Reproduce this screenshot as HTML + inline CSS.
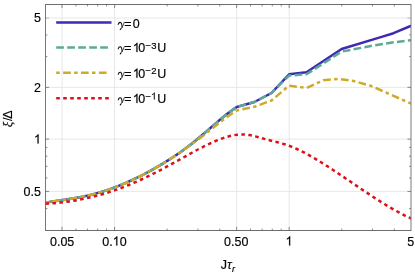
<!DOCTYPE html><html><head><meta charset="utf-8"><style>html,body{margin:0;padding:0;background:#fff}svg{display:block}text{font-family:"Liberation Sans",sans-serif;fill:#000;stroke:#000;stroke-width:0.18px}.si{font-style:italic}.g{font-family:"Liberation Serif",serif;font-style:italic}</style></head><body>
<svg width="415" height="273" viewBox="0 0 415 273">
<rect width="415" height="273" fill="#fff"/>
<line x1="62.04" y1="4.50" x2="62.04" y2="230.50" stroke="#e4e4e4" stroke-width="0.9"/>
<line x1="114.60" y1="4.50" x2="114.60" y2="230.50" stroke="#e4e4e4" stroke-width="0.9"/>
<line x1="236.64" y1="4.50" x2="236.64" y2="230.50" stroke="#e4e4e4" stroke-width="0.9"/>
<line x1="289.20" y1="4.50" x2="289.20" y2="230.50" stroke="#e4e4e4" stroke-width="0.9"/>
<line x1="45.50" y1="191.40" x2="411.00" y2="191.40" stroke="#e4e4e4" stroke-width="0.9"/>
<line x1="45.50" y1="139.10" x2="411.00" y2="139.10" stroke="#e4e4e4" stroke-width="0.9"/>
<line x1="45.50" y1="87.35" x2="411.00" y2="87.35" stroke="#e4e4e4" stroke-width="0.9"/>
<line x1="45.50" y1="18.00" x2="411.00" y2="18.00" stroke="#e4e4e4" stroke-width="0.9"/>
<clipPath id="c"><rect x="45.50" y="4.50" width="365.50" height="226.00"/></clipPath>
<g clip-path="url(#c)" fill="none" stroke-width="2.50" stroke-linejoin="round">
<path d="M45.40,202.62 L48.40,202.14 L51.40,201.68 L54.40,201.22 L57.40,200.78 L60.40,200.34 L63.40,199.89 L66.40,199.44 L69.40,198.97 L72.40,198.49 L75.40,197.98 L78.40,197.45 L81.40,196.88 L84.40,196.28 L87.40,195.63 L90.40,194.94 L93.40,194.19 L96.40,193.39 L99.40,192.53 L102.40,191.61 L105.40,190.64 L108.40,189.63 L111.40,188.56 L114.40,187.45 L117.40,186.30 L120.40,185.10 L123.40,183.86 L126.40,182.58 L129.40,181.26 L132.40,179.89 L135.40,178.48 L138.40,177.03 L141.40,175.53 L144.40,173.99 L147.40,172.41 L150.40,170.79 L153.40,169.13 L156.40,167.42 L159.40,165.67 L162.40,163.87 L165.40,162.03 L168.40,160.15 L171.40,158.23 L174.40,156.27 L177.40,154.25 L180.40,152.18 L183.40,150.04 L186.40,147.83 L189.40,145.53 L192.40,143.16 L195.40,140.74 L198.40,138.27 L201.40,135.76 L204.40,133.22 L207.40,130.65 L210.40,128.06 L213.40,125.45 L216.40,122.84 L219.40,120.27 L222.40,117.75 L225.40,115.30 L228.40,112.95 L231.40,110.72 L234.40,108.63 L236.80,107.00 L254.40,102.00 L271.50,93.00 L289.10,74.30 L306.50,72.30 L341.60,49.00 L380.00,37.40 L393.50,33.20 L411.20,25.75" stroke="#4029b3"/>
<path d="M45.40,202.62 L48.40,202.14 L51.40,201.68 L54.40,201.22 L57.40,200.78 L60.40,200.34 L63.40,199.89 L66.40,199.44 L69.40,198.97 L72.40,198.49 L75.40,197.98 L78.40,197.45 L81.40,196.88 L84.40,196.28 L87.40,195.63 L90.40,194.94 L93.40,194.19 L96.40,193.39 L99.40,192.53 L102.40,191.61 L105.40,190.64 L108.40,189.63 L111.40,188.56 L114.40,187.45 L117.40,186.30 L120.40,185.10 L123.40,183.86 L126.40,182.58 L129.40,181.26 L132.40,179.89 L135.40,178.48 L138.40,177.03 L141.40,175.53 L144.40,173.99 L147.40,172.41 L150.40,170.79 L153.40,169.13 L156.40,167.42 L159.40,165.67 L162.40,163.87 L165.40,162.03 L168.40,160.15 L171.40,158.23 L174.40,156.27 L177.40,154.25 L180.40,152.18 L183.40,150.04 L186.40,147.83 L189.40,145.53 L192.40,143.16 L195.40,140.74 L198.40,138.27 L201.40,135.76 L204.40,133.22 L207.40,130.65 L210.40,128.06 L213.40,125.45 L216.40,122.84 L219.40,120.27 L222.40,117.75 L225.40,115.30 L228.40,112.95 L231.40,110.72 L234.40,108.63 L236.80,107.00 L254.40,102.00 L271.50,93.00 L289.10,75.60 L306.50,74.30 L341.60,51.60 L372.00,45.80 L393.50,42.30 L411.20,40.20" stroke="#5caa96" stroke-dasharray="7.7 3.3"/>
<path d="M45.40,202.62 L48.40,202.14 L51.40,201.68 L54.40,201.22 L57.40,200.78 L60.40,200.34 L63.40,199.89 L66.40,199.44 L69.40,198.97 L72.40,198.49 L75.40,197.98 L78.40,197.45 L81.40,196.88 L84.40,196.28 L87.40,195.63 L90.40,194.94 L93.40,194.19 L96.40,193.39 L99.40,192.53 L102.40,191.61 L105.40,190.64 L108.40,189.63 L111.40,188.56 L114.40,187.45 L117.40,186.30 L120.40,185.10 L123.40,183.86 L126.40,182.58 L129.40,181.26 L132.40,179.89 L135.40,178.48 L138.40,177.03 L141.40,175.53 L144.40,173.99 L147.40,172.41 L150.40,170.79 L153.40,169.13 L156.40,167.42 L159.40,165.67 L162.40,163.87 L165.40,162.03 L168.40,160.15 L171.40,158.23 L174.40,156.27 L177.40,154.25 L180.40,152.20 L183.40,150.20 L186.40,148.12 L189.40,145.97 L192.40,143.74 L195.40,141.47 L198.40,139.24 L201.40,136.98 L204.40,134.68 L207.40,132.35 L210.40,130.00 L213.40,127.63 L216.40,125.27 L219.40,122.86 L222.40,120.50 L225.40,118.22 L228.40,116.02 L231.40,113.94 L234.40,112.00 L236.80,110.50 L254.40,106.80 L271.50,100.50 L289.10,85.60 L306.50,88.00 L323.50,80.20 L338.50,78.90 L353.50,81.00 L371.00,85.90 L393.50,95.80 L411.20,103.70" stroke="#cdab2a" stroke-dasharray="3.5 3.4 7.7 3.3"/>
<path d="M45.40,203.77 L48.40,203.60 L51.40,203.39 L54.40,203.15 L57.40,202.87 L60.40,202.56 L63.40,202.20 L66.40,201.82 L69.40,201.39 L72.40,200.93 L75.40,200.43 L78.40,199.89 L81.40,199.31 L84.40,198.70 L87.40,198.05 L90.40,197.35 L93.40,196.62 L96.40,195.85 L99.40,195.04 L102.40,194.20 L105.40,193.31 L108.40,192.38 L111.40,191.41 L114.40,190.40 L117.40,189.35 L120.40,188.26 L123.40,187.13 L126.40,185.95 L129.40,184.74 L132.40,183.48 L135.40,182.19 L138.40,180.86 L141.40,179.49 L144.40,178.09 L147.40,176.65 L150.40,175.19 L153.40,173.69 L156.40,172.17 L159.40,170.62 L162.40,169.04 L165.40,167.44 L168.40,165.81 L171.40,164.17 L174.40,162.50 L177.40,160.83 L180.40,159.15 L183.40,157.47 L186.40,155.79 L189.40,154.13 L192.40,152.49 L195.40,150.86 L198.40,149.27 L201.40,147.71 L204.40,146.20 L207.40,144.73 L210.40,143.31 L213.40,141.95 L216.40,140.66 L219.40,139.44 L222.40,138.33 L225.40,137.32 L228.40,136.44 L231.40,135.70 L234.40,135.12 L237.40,134.70 L240.40,134.48 L243.40,134.45 L246.40,134.64 L249.40,135.05 L252.40,135.64 L255.40,136.36 L258.40,137.17 L261.40,138.03 L264.40,138.89 L267.40,139.72 L270.40,140.49 L273.40,141.24 L276.40,141.99 L279.40,142.77 L282.40,143.60 L285.40,144.52 L288.40,145.54 L291.40,146.67 L294.40,147.91 L297.40,149.25 L300.40,150.68 L303.40,152.18 L306.40,153.77 L309.40,155.42 L312.40,157.12 L315.40,158.88 L318.40,160.69 L321.40,162.53 L324.40,164.40 L327.40,166.31 L330.40,168.25 L333.40,170.21 L336.40,172.19 L339.40,174.19 L342.40,176.20 L345.40,178.23 L348.40,180.26 L351.40,182.29 L354.40,184.33 L357.40,186.37 L360.40,188.40 L363.40,190.42 L366.40,192.42 L369.40,194.41 L372.40,196.38 L375.40,198.33 L378.40,200.25 L381.40,202.14 L384.40,204.00 L387.40,205.82 L390.40,207.60 L393.40,209.34 L396.40,211.03 L399.40,212.67 L402.40,214.26 L405.40,215.79 L408.40,217.25 L411.20,218.57" stroke="#dc1018" stroke-dasharray="3.6 3.4"/>
</g>
<path d="M62.04,230.50 v-3.60 M62.04,4.50 v3.60 M114.60,230.50 v-3.60 M114.60,4.50 v3.60 M236.64,230.50 v-3.60 M236.64,4.50 v3.60 M289.20,230.50 v-3.60 M289.20,4.50 v3.60 M75.87,230.50 v-1.90 M75.87,4.50 v1.90 M87.55,230.50 v-1.90 M87.55,4.50 v1.90 M97.68,230.50 v-1.90 M97.68,4.50 v1.90 M106.61,230.50 v-1.90 M106.61,4.50 v1.90 M167.16,230.50 v-1.90 M167.16,4.50 v1.90 M197.91,230.50 v-1.90 M197.91,4.50 v1.90 M219.72,230.50 v-1.90 M219.72,4.50 v1.90 M250.47,230.50 v-1.90 M250.47,4.50 v1.90 M262.15,230.50 v-1.90 M262.15,4.50 v1.90 M272.28,230.50 v-1.90 M272.28,4.50 v1.90 M281.21,230.50 v-1.90 M281.21,4.50 v1.90 M341.76,230.50 v-1.90 M341.76,4.50 v1.90 M372.51,230.50 v-1.90 M372.51,4.50 v1.90 M394.32,230.50 v-1.90 M394.32,4.50 v1.90 M45.50,191.40 h3.60 M411.00,191.40 h-3.60 M45.50,139.10 h3.60 M411.00,139.10 h-3.60 M45.50,87.35 h3.60 M411.00,87.35 h-3.60 M45.50,208.53 h1.90 M411.00,208.53 h-1.90 M45.50,177.96 h1.90 M411.00,177.96 h-1.90 M45.50,166.34 h1.90 M411.00,166.34 h-1.90 M45.50,156.27 h1.90 M411.00,156.27 h-1.90 M45.50,147.39 h1.90 M411.00,147.39 h-1.90 M45.50,56.62 h1.90 M411.00,56.62 h-1.90 M45.50,34.93 h1.90 M411.00,34.93 h-1.90" stroke="#6c6c6c" stroke-width="0.8" fill="none"/>
<path d="M45.50,18.00 h3.60 M411.00,18.00 h-3.60" stroke="#b4b4b4" stroke-width="0.9" fill="none"/>
<path d="M45.05,4.50 H411.45 M45.05,230.50 H411.45" stroke="#5e5e5e" stroke-width="0.9" fill="none"/>
<path d="M45.50,4.50 V230.50" stroke="#686868" stroke-width="0.9" fill="none"/>
<path d="M411.00,4.50 V230.50" stroke="#7a7a7a" stroke-width="1.0" fill="none"/>
<g opacity="0.999">
<text transform="translate(49.96,245.55) scale(1,1.035)" font-size="12.50">0</text>
<text transform="translate(56.91,245.55) scale(1,1.035)" font-size="12.50">.</text>
<text transform="translate(60.38,245.55) scale(1,1.035)" font-size="12.50">0</text>
<text transform="translate(67.34,245.55) scale(1,1.035)" font-size="12.50">5</text>
<text transform="translate(102.26,245.55) scale(1,1.035)" font-size="12.50">0</text>
<text transform="translate(109.21,245.55) scale(1,1.035)" font-size="12.50">.</text>
<path transform="translate(112.68,245.55) scale(0.00610,0.00632)" d="M763,0 L583,0 L583,-1147 C540,-1106 483,-1065 413,-1024 C343,-983 280,-952 224,-932 L224,-1106 C325,-1153 413,-1211 488,-1278 C563,-1346 617,-1411 648,-1466 L763,-1466 Z" fill="#000" stroke="#000" stroke-width="30"/>
<text transform="translate(119.64,245.55) scale(1,1.035)" font-size="12.50">0</text>
<text transform="translate(224.00,245.55) scale(1,1.035)" font-size="12.50">0</text>
<text transform="translate(230.95,245.55) scale(1,1.035)" font-size="12.50">.</text>
<text transform="translate(234.42,245.55) scale(1,1.035)" font-size="12.50">5</text>
<text transform="translate(241.38,245.55) scale(1,1.035)" font-size="12.50">0</text>
<path transform="translate(285.53,245.55) scale(0.00610,0.00632)" d="M763,0 L583,0 L583,-1147 C540,-1106 483,-1065 413,-1024 C343,-983 280,-952 224,-932 L224,-1106 C325,-1153 413,-1211 488,-1278 C563,-1346 617,-1411 648,-1466 L763,-1466 Z" fill="#000" stroke="#000" stroke-width="30"/>
<text transform="translate(407.30,245.55) scale(1,1.035)" font-size="12.50">5</text>
<text transform="translate(23.52,195.85) scale(1,1.035)" font-size="12.50">0</text>
<text transform="translate(30.48,195.85) scale(1,1.035)" font-size="12.50">.</text>
<text transform="translate(33.95,195.85) scale(1,1.035)" font-size="12.50">5</text>
<path transform="translate(33.95,143.55) scale(0.00610,0.00632)" d="M763,0 L583,0 L583,-1147 C540,-1106 483,-1065 413,-1024 C343,-983 280,-952 224,-932 L224,-1106 C325,-1153 413,-1211 488,-1278 C563,-1346 617,-1411 648,-1466 L763,-1466 Z" fill="#000" stroke="#000" stroke-width="30"/>
<text transform="translate(33.95,91.80) scale(1,1.035)" font-size="12.50">2</text>
<text transform="translate(33.95,22.45) scale(1,1.035)" font-size="12.50">5</text>
<g fill="none" stroke-width="2.50">
<path d="M56.2,22.45 H111.5" stroke="#4029b3"/>
<path d="M56.2,47.60 H110.5" stroke="#5caa96" stroke-dasharray="7.7 3.3"/>
<path d="M56.2,72.85 H109.5" stroke="#cdab2a" stroke-dasharray="3.5 3.4 7.7 3.3"/>
<path d="M56.2,98.15 H110.5" stroke="#dc1018" stroke-dasharray="3.6 3.4"/>
</g>
<g transform="translate(118.00,27.75)" fill="none" stroke="#111" stroke-linecap="round"><path d="M0.2,-3.3 C0.6,-4.7 1.6,-5.5 2.5,-5.3 C3.5,-5.0 4.0,-3.0 4.1,-0.6" stroke-width="1.05"/><path d="M6.3,-5.4 C5.9,-3.8 4.9,-1.8 4.0,-0.5 C3.3,0.6 2.6,1.6 2.3,1.7" stroke-width="0.75"/><path d="M2.9,1.0 L2.3,1.7" stroke-width="1.1"/></g>
<text transform="translate(124.25,27.75) scale(1,1.035)" font-size="12.50">=</text>
<text transform="translate(132.70,27.75) scale(1,1.035)" font-size="12.50">0</text>
<g transform="translate(118.00,52.10)" fill="none" stroke="#111" stroke-linecap="round"><path d="M0.2,-3.3 C0.6,-4.7 1.6,-5.5 2.5,-5.3 C3.5,-5.0 4.0,-3.0 4.1,-0.6" stroke-width="1.05"/><path d="M6.3,-5.4 C5.9,-3.8 4.9,-1.8 4.0,-0.5 C3.3,0.6 2.6,1.6 2.3,1.7" stroke-width="0.75"/><path d="M2.9,1.0 L2.3,1.7" stroke-width="1.1"/></g>
<text transform="translate(124.25,52.10) scale(1,1.035)" font-size="12.50">=</text>
<path transform="translate(132.83,52.10) scale(0.00610,0.00632)" d="M763,0 L583,0 L583,-1147 C540,-1106 483,-1065 413,-1024 C343,-983 280,-952 224,-932 L224,-1106 C325,-1153 413,-1211 488,-1278 C563,-1346 617,-1411 648,-1466 L763,-1466 Z" fill="#000" stroke="#000" stroke-width="30"/>
<text transform="translate(138.15,52.10) scale(1,1.035)" font-size="12.50">0</text>
<text transform="translate(145.50,48.55) scale(1,1.035)" font-size="9.50">−</text>
<text transform="translate(151.30,48.55) scale(1,1.035)" font-size="9.50">3</text>
<text transform="translate(157.20,52.10) scale(1,1.035)" font-size="12.50">U</text>
<g transform="translate(118.00,77.65)" fill="none" stroke="#111" stroke-linecap="round"><path d="M0.2,-3.3 C0.6,-4.7 1.6,-5.5 2.5,-5.3 C3.5,-5.0 4.0,-3.0 4.1,-0.6" stroke-width="1.05"/><path d="M6.3,-5.4 C5.9,-3.8 4.9,-1.8 4.0,-0.5 C3.3,0.6 2.6,1.6 2.3,1.7" stroke-width="0.75"/><path d="M2.9,1.0 L2.3,1.7" stroke-width="1.1"/></g>
<text transform="translate(124.25,77.65) scale(1,1.035)" font-size="12.50">=</text>
<path transform="translate(132.83,77.65) scale(0.00610,0.00632)" d="M763,0 L583,0 L583,-1147 C540,-1106 483,-1065 413,-1024 C343,-983 280,-952 224,-932 L224,-1106 C325,-1153 413,-1211 488,-1278 C563,-1346 617,-1411 648,-1466 L763,-1466 Z" fill="#000" stroke="#000" stroke-width="30"/>
<text transform="translate(138.15,77.65) scale(1,1.035)" font-size="12.50">0</text>
<text transform="translate(145.50,74.10) scale(1,1.035)" font-size="9.50">−</text>
<text transform="translate(151.30,74.10) scale(1,1.035)" font-size="9.50">2</text>
<text transform="translate(157.20,77.65) scale(1,1.035)" font-size="12.50">U</text>
<g transform="translate(118.00,103.10)" fill="none" stroke="#111" stroke-linecap="round"><path d="M0.2,-3.3 C0.6,-4.7 1.6,-5.5 2.5,-5.3 C3.5,-5.0 4.0,-3.0 4.1,-0.6" stroke-width="1.05"/><path d="M6.3,-5.4 C5.9,-3.8 4.9,-1.8 4.0,-0.5 C3.3,0.6 2.6,1.6 2.3,1.7" stroke-width="0.75"/><path d="M2.9,1.0 L2.3,1.7" stroke-width="1.1"/></g>
<text transform="translate(124.25,103.10) scale(1,1.035)" font-size="12.50">=</text>
<path transform="translate(132.83,103.10) scale(0.00610,0.00632)" d="M763,0 L583,0 L583,-1147 C540,-1106 483,-1065 413,-1024 C343,-983 280,-952 224,-932 L224,-1106 C325,-1153 413,-1211 488,-1278 C563,-1346 617,-1411 648,-1466 L763,-1466 Z" fill="#000" stroke="#000" stroke-width="30"/>
<text transform="translate(138.15,103.10) scale(1,1.035)" font-size="12.50">0</text>
<text transform="translate(145.50,99.55) scale(1,1.035)" font-size="9.50">−</text>
<path transform="translate(151.16,99.55) scale(0.00464,0.00480)" d="M763,0 L583,0 L583,-1147 C540,-1106 483,-1065 413,-1024 C343,-983 280,-952 224,-932 L224,-1106 C325,-1153 413,-1211 488,-1278 C563,-1346 617,-1411 648,-1466 L763,-1466 Z" fill="#000" stroke="#000" stroke-width="30"/>
<text transform="translate(157.20,103.10) scale(1,1.035)" font-size="12.50">U</text>
<g transform="translate(11.5,126.8) rotate(-90)">
<text x="-0.4" y="0" font-size="12.7" class="g">ξ</text>
<text x="5.9" y="0" font-size="12.5">/</text>
<text x="8.05" y="0" font-size="12.5">Δ</text>
</g>
<text transform="translate(220.80,269.40) scale(1,1.035)" font-size="12.50">J</text>
<text transform="translate(227.30,269.40) scale(1,1.035)" font-size="11.80" class="si">τ</text>
<text transform="translate(232.10,271.60) scale(1,1.035)" font-size="9.20" class="si">r</text>
</g>
</svg></body></html>
